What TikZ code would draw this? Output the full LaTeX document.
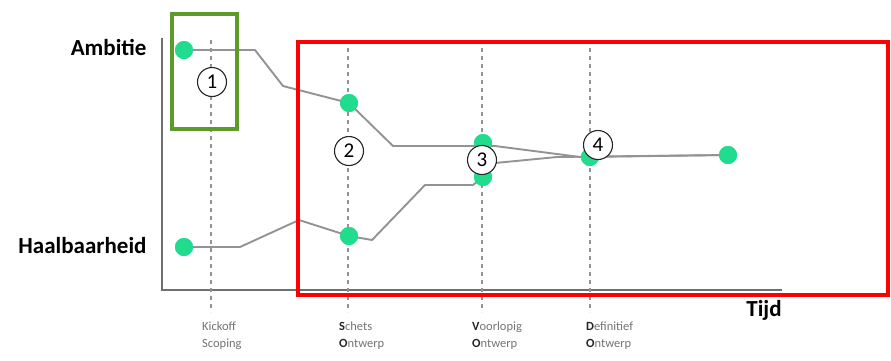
\documentclass[tikz,border=0pt]{standalone}
\usepackage{fontspec}
\setmainfont{Carlito}
\usepackage{tikz}
\usetikzlibrary{positioning}
\definecolor{mint}{HTML}{20DC8C}
\definecolor{kgreen}{HTML}{5B9A2B}
\definecolor{lgray}{HTML}{939393}
\definecolor{agray}{HTML}{707070}
\newcommand{\ini}[1]{\textbf{\color{black!85}#1}}
\begin{document}
\begin{tikzpicture}[x=1pt,y=-1pt,
  pt/.style={circle,fill=mint,inner sep=0pt,minimum size=18pt},
  num/.style={circle,draw=black!85,line width=1.1pt,fill=white,inner sep=0pt,minimum size=29pt,font=\fontsize{21}{21}\selectfont},
  curveline/.style={draw=lgray,line width=1.9pt,line join=round},
  phase/.style={draw=gray!85,line width=1.3pt,dash pattern=on 4pt off 4pt},
  lbl/.style={anchor=north west,inner sep=0pt,align=left,text=black!55,font=\fontsize{12.5}{17}\selectfont},
  big/.style={font=\fontsize{23}{26}\selectfont\bfseries},
  frame/.style={draw=#1,line width=4pt,inner sep=0pt}]
\useasboundingbox (0,0) rectangle (891,360);
% assen
\coordinate (axtop) at (162,38);
\coordinate (axorig) at (162,290);
\coordinate (axend) at (782,290);
\draw[agray,line width=1.3pt] (axtop)--(axorig)--(axend);
\node[big,anchor=east] (amb) at (150,47) {Ambitie};
\node[big,anchor=east] (haal) at (150,246) {Haalbaarheid};
\node[big] (tijd) at (764,310) {Tijd};
% fasen
\foreach \x/\n in {211/ko,348/so,482/vo,590/do}{
  \coordinate (\n top) at (\x,40);
  \coordinate (\n bot) at (\x,312);
  \draw[phase] (\n top)--(\n bot);
}
\node[lbl] (lko) at (202,322) {Kickoff\\Scoping};
\node[lbl] (lso) at (339,322) {\ini{S}chets\\\ini{O}ntwerp};
\node[lbl] (lvo) at (472,322) {\ini{V}oorlopig\\\ini{O}ntwerp};
\node[lbl] (ldo) at (586,322) {\ini{D}efinitief\\\ini{O}ntwerp};
% punten en lijnen
\node[pt] (a1) at (184,50) {};
\node[pt] (a2) at (349,103) {};
\node[pt] (a3) at (483,143) {};
\node[pt] (h1) at (184,247) {};
\node[pt] (h2) at (349,236) {};
\node[pt] (h3) at (483,177) {};
\node[pt] (m4) at (590,157) {};
\node[pt] (goal) at (728,155) {};
\coordinate (t1) at (255,50);
\coordinate (t2) at (283,86);
\coordinate (t3) at (393,146);
\coordinate (t4) at (495,146);
\coordinate (t5) at (580,157);
\coordinate (b1) at (240,247);
\coordinate (b2) at (299,220);
\coordinate (b3) at (372,240);
\coordinate (b4) at (425,185);
\coordinate (b5) at (473,185);
\coordinate (b6) at (495,163);
\coordinate (b7) at (557,157);
\draw[curveline] (a1.center)--(t1)--(t2)--(a2.center)--(t3)--(t4)--(t5)--(goal.center);
\draw[curveline] (h1.center)--(b1)--(b2)--(h2.center)--(b3)--(b4)--(b5)--(h3.center)--(b6)--(b7)--(goal.center);
\foreach \n in {a1,a2,a3,h1,h2,h3,m4,goal}
  \node[pt] at (\n) {};
% nummers
\node[num] (n1) at (212,82) {1};
\node[num] (n2) at (349,151) {2};
\node[num] (n3) at (482,160) {3};
\node[num] (n4) at (598,145) {4};
% kaders
\node[frame=kgreen,minimum width=65pt,minimum height=115pt] (kbox) at (204.5,71.5) {};
\node[frame=red,minimum width=590pt,minimum height=253pt] (rbox) at (593,168.5) {};
\end{tikzpicture}
\end{document}
